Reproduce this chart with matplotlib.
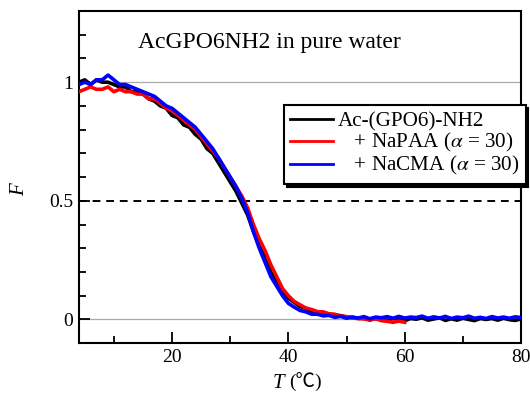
import matplotlib
matplotlib.use("Agg")
import matplotlib.pyplot as plt

plt.rcParams['font.family'] = ['Liberation Serif', 'DejaVu Serif']
plt.rcParams['mathtext.fontset'] = 'stix'

# Temperature (°C) and fraction folded F
temp = list(range(4, 81))
temp_red = list(range(4, 61))

f_black = [1.00, 1.01, 0.99, 1.01, 1.00, 1.00, 0.99, 0.98, 0.98, 0.96, 0.96, 0.95, 0.93, 0.92, 0.90,
           0.89, 0.86, 0.85, 0.82, 0.81, 0.78, 0.76, 0.72, 0.70, 0.66, 0.62, 0.58, 0.54, 0.49, 0.44,
           0.37, 0.31, 0.26, 0.20, 0.16, 0.12, 0.09, 0.072, 0.055, 0.047, 0.035, 0.032, 0.026, 0.02, 0.018,
           0.016, 0.01, 0.009, 0.004, 0.006, -0.002, 0.004, 0.003, -0.004, 0.004, 0.0, -0.006, 0.004, 0.001, 0.007,
           -0.003, 0.002, 0.007, -0.004, 0.003, -0.003, 0.005, 0.0, -0.005, 0.004, 0.0, 0.004, -0.003, 0.005, -0.001,
           -0.004, 0.002]

f_red = [0.96, 0.97, 0.98, 0.97, 0.97, 0.98, 0.96, 0.97, 0.96, 0.96, 0.95, 0.95, 0.93, 0.93, 0.91,
         0.89, 0.88, 0.86, 0.84, 0.82, 0.80, 0.77, 0.74, 0.71, 0.68, 0.64, 0.60, 0.56, 0.52, 0.47,
         0.40, 0.34, 0.29, 0.23, 0.18, 0.13, 0.10, 0.076, 0.062, 0.048, 0.042, 0.033, 0.032, 0.024, 0.022,
         0.014, 0.012, 0.006, 0.004, 0.002, -0.002, 0.003, -0.005, -0.008, -0.012, -0.007, -0.012]

f_blue = [0.99, 1.00, 0.99, 1.01, 1.01, 1.03, 1.01, 0.99, 0.99, 0.98, 0.97, 0.96, 0.95, 0.94, 0.92,
          0.90, 0.89, 0.87, 0.85, 0.83, 0.81, 0.78, 0.75, 0.72, 0.68, 0.64, 0.60, 0.56, 0.51, 0.45,
          0.37, 0.30, 0.24, 0.18, 0.14, 0.10, 0.068, 0.052, 0.038, 0.032, 0.022, 0.022, 0.015, 0.017, 0.009,
          0.013, 0.005, 0.01, 0.006, 0.012, 0.003, 0.01, 0.007, 0.012, 0.005, 0.013, 0.006, 0.01, 0.008, 0.014,
          0.005, 0.011, 0.006, 0.013, 0.004, 0.01, 0.007, 0.014, 0.005, 0.009, 0.004, 0.012, 0.006, 0.01, 0.005,
          0.011, 0.008]

labels = ['Ac-(GPO6)-NH2', '   + NaPAA ($\\alpha$ = 30)', '   + NaCMA ($\\alpha$ = 30)']

fig = plt.figure(figsize=(5.3, 3.94), dpi=100)
ax = fig.add_axes([0.149, 0.129, 0.834, 0.843])

ax.axhline(0, color='#aaaaaa', lw=0.9, zorder=1)
ax.axhline(1, color='#aaaaaa', lw=0.9, zorder=1)
ax.axhline(0.5, color='black', lw=1.4, ls=(0, (4, 3)), zorder=1)

ax.plot(temp, f_black, color='black', lw=2.6, label=labels[0], zorder=2)
ax.plot(temp_red, f_red, color='#ff0000', lw=2.6, label=labels[1], zorder=3)
ax.plot(temp, f_blue, color='#0000ff', lw=2.6, label=labels[2], zorder=4)

ax.set_xlim(4, 80)
ax.set_ylim(-0.1, 1.3)
ax.set_xticks([20, 40, 60, 80])
ax.set_xticks([10, 30, 50, 70], minor=True)
ax.set_yticks([0, 0.5, 1])
ax.set_yticklabels(['0', '0.5', '1'])
ax.set_yticks([0.1, 0.2, 0.3, 0.4, 0.6, 0.7, 0.8, 0.9, 1.1, 1.2], minor=True)
ax.tick_params(which='both', direction='in', width=1.3, labelsize=14)
ax.tick_params(which='major', length=8, pad=4)
ax.tick_params(which='minor', length=5)
for s in ax.spines.values():
    s.set_linewidth(1.5)

# axis labels: italic symbol + unit with a CJK fallback for ℃
fig.text(273 / 530, 1 - 388 / 394, 'T', fontsize=15, style='italic', va='baseline', ha='left')
fig.text(289 / 530, 1 - 388 / 394, '(\u2103)', fontsize=14, va='baseline', ha='left',
         family=['Liberation Serif', 'Noto Sans CJK JP'])
fig.text(20 / 530, 1 - 190 / 394, 'F', fontsize=15, style='italic', rotation=90,
         va='center', ha='center')

ax.text(0.133, 0.905, 'AcGPO6NH2 in pure water', transform=ax.transAxes,
        fontsize=17, va='center', ha='left')

leg = ax.legend(loc='upper left', bbox_to_anchor=(0.44, 0.748), fontsize=15.2,
                frameon=True, fancybox=False, framealpha=1, edgecolor='black',
                shadow={'color': 'black', 'alpha': 1}, handlelength=2.0,
                handletextpad=0.25, borderpad=0.3, labelspacing=0.0)
leg.get_frame().set_linewidth(1.5)
for h in leg.get_lines():
    h.set_linewidth(2)

fig.savefig('out.png', dpi=100)
